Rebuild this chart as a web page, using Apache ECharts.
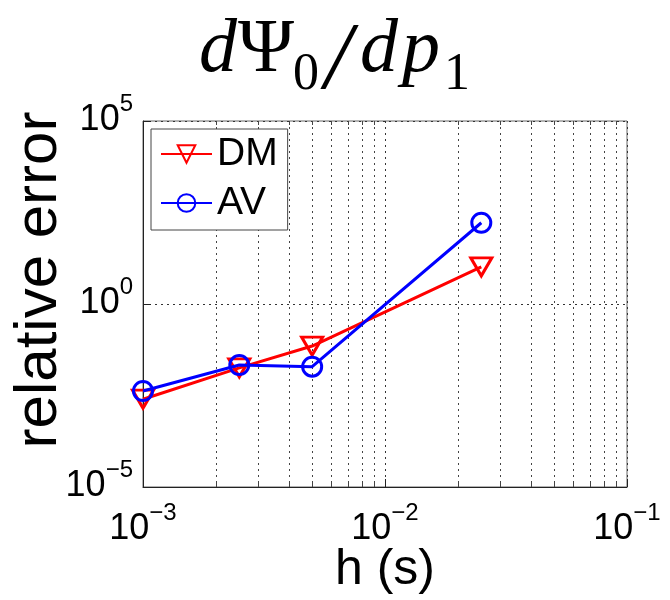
<!DOCTYPE html>
<html>
<head>
<meta charset="utf-8">
<script src="https://cdn.jsdelivr.net/npm/echarts@6/dist/echarts.min.js"></script>
<style>
  html, body { margin: 0; padding: 0; background: #fff; }
  #chart { width: 670px; height: 600px; }
</style>
</head>
<body>
<div id="chart"></div>
<script>
// Step sizes h (s) and relative errors of the sensitivity dPsi0/dp1
const stepSizes = [0.001, 0.0025, 0.005, 0.025];
const errorDM = [2.5e-3, 0.018, 0.071, 10.3];
const errorAV = [4.2e-3, 0.0215, 0.0194, 166];

// Minor (2..9 per decade) grid positions on the h axis
const minorGridH = [0.002, 0.003, 0.004, 0.005, 0.006, 0.007, 0.008, 0.009,
                    0.02, 0.03, 0.04, 0.05, 0.06, 0.07, 0.08, 0.09];

const seriesNames = ['DM', 'AV'];

const SANS = '"Liberation Sans", Arial, sans-serif';
const SERIF = '"Liberation Serif", "Times New Roman", serif';
const dotted = [2, 4];
const Y_MIN = 1e-5, Y_MAX = 1e5;

// "10" with a raised exponent
function powerLabel(v) {
  const e = Math.round(Math.log10(v));
  const s = e < 0 ? '\u2212' + Math.abs(e) : String(e);
  return '{b|10}{e|' + s + '}';
}
const powerRich = {
  b: { fontFamily: SANS, fontSize: 36, color: '#000', verticalAlign: 'top', padding: [10, 0, 0, 0] },
  e: { fontFamily: SANS, fontSize: 24, color: '#000', verticalAlign: 'top' }
};

const mainTok = (extra) => Object.assign({
  fontFamily: SERIF, fontSize: 76, fontWeight: 'normal', color: '#000',
  verticalAlign: 'top', align: 'center'
}, extra);
const subTok = (extra) => Object.assign({
  fontFamily: SERIF, fontSize: 52, fontWeight: 'normal', color: '#000',
  verticalAlign: 'top', align: 'center', padding: [36, 0, 0, 0]
}, extra);

const chart = echarts.init(document.getElementById('chart'), null, { renderer: 'canvas' });

chart.setOption({
  backgroundColor: '#fff',
  animation: false,
  title: {
    left: 'center',
    top: 8,
    text: '{d1|d}{psi|\u03A8}{s0|0}{sl|/}{d2|d}{p|p}{s1|1}',
    textStyle: {
      fontWeight: 'normal',
      rich: {
        d1: mainTok({ fontStyle: 'italic', width: 40 }),
        psi: mainTok({ width: 56 }),
        s0: subTok({ width: 24 }),
        sl: mainTok({ fontStyle: 'italic', fontSize: 96, width: 40, padding: [2, 0, 0, 0] }),
        d2: mainTok({ fontStyle: 'italic', width: 42 }),
        p: mainTok({ fontStyle: 'italic', width: 42 }),
        s1: subTok({ width: 30 })
      }
    }
  },
  legend: {
    data: seriesNames,
    orient: 'vertical',
    left: 151,
    top: 129,
    padding: [5, 10, 7, 9],
    itemGap: 9,
    itemWidth: 51,
    itemHeight: 22,
    backgroundColor: '#fff',
    borderColor: '#444',
    borderWidth: 1,
    borderRadius: 0,
    textStyle: { fontFamily: SANS, fontSize: 39, color: '#000', lineHeight: 40 }
  },
  grid: {
    left: 143, top: 121, width: 484, height: 366,
    containLabel: false,
    outerBoundsMode: 'none',
    show: true, borderColor: '#666', borderWidth: 1, backgroundColor: '#fff'
  },
  xAxis: {
    type: 'log',
    logBase: 10,
    min: 0.001,
    max: 0.1,
    interval: 1,
    name: 'h (s)',
    nameLocation: 'middle',
    nameGap: 58,
    nameMoveOverlap: false,
    nameTextStyle: { fontFamily: SANS, fontSize: 50, color: '#000' },
    axisLine: { show: true, lineStyle: { color: '#222', width: 1 } },
    axisTick: { show: true, inside: true, length: 8, lineStyle: { color: '#222' } },
    axisLabel: { margin: 14, formatter: powerLabel, rich: powerRich },
    splitLine: { show: true, lineStyle: { color: '#333', type: dotted, width: 1 } },
    minorTick: { show: false },
    minorSplitLine: { show: false }
  },
  yAxis: {
    type: 'log',
    logBase: 10,
    min: Y_MIN,
    max: Y_MAX,
    interval: 5,
    name: 'relative error',
    nameLocation: 'middle',
    nameGap: 74,
    nameMoveOverlap: false,
    nameTextStyle: { fontFamily: SANS, fontSize: 60, color: '#000', padding: [0, 0, 0, 48] },
    axisLine: { show: true, lineStyle: { color: '#222', width: 1 } },
    axisTick: { show: true, inside: true, length: 8, lineStyle: { color: '#222' } },
    axisLabel: { margin: 10, formatter: powerLabel, rich: powerRich, padding: [0, 0, 12, 0] },
    splitLine: { show: true, lineStyle: { color: '#333', type: dotted, width: 1 } }
  },
  series: [
    {
      // dotted minor grid lines with short inner ticks at top and bottom
      name: 'minor grid',
      type: 'custom',
      silent: true,
      z: 1,
      data: minorGridH.map(v => [v, Y_MIN, Y_MAX]),
      encode: { x: 0, y: [1, 2] },
      renderItem: function (params, api) {
        const bottom = api.coord([api.value(0), api.value(1)]);
        const top = api.coord([api.value(0), api.value(2)]);
        const x = Math.round(bottom[0]) + 0.5;
        return {
          type: 'group',
          children: [
            {
              type: 'line',
              shape: { x1: x, y1: top[1], x2: x, y2: bottom[1] },
              style: { stroke: '#444', lineWidth: 1, lineDash: dotted }
            },
            {
              type: 'line',
              shape: { x1: x, y1: top[1], x2: x, y2: top[1] + 4 },
              style: { stroke: '#444', lineWidth: 1 }
            },
            {
              type: 'line',
              shape: { x1: x, y1: bottom[1], x2: x, y2: bottom[1] - 4 },
              style: { stroke: '#444', lineWidth: 1 }
            }
          ]
        };
      }
    },
    {
      name: 'DM',
      type: 'line',
      z: 3,
      data: stepSizes.map((h, i) => [h, errorDM[i]]),
      lineStyle: { color: '#ff0000', width: 3 },
      symbol: 'triangle',
      symbolRotate: 180,
      symbolSize: [21, 18],
      itemStyle: { color: 'rgba(255,255,255,0)', borderColor: '#ff0000', borderWidth: 3 }
    },
    {
      name: 'AV',
      type: 'line',
      z: 4,
      data: stepSizes.map((h, i) => [h, errorAV[i]]),
      lineStyle: { color: '#0000ff', width: 3 },
      symbol: 'circle',
      symbolSize: 19,
      itemStyle: { color: 'rgba(255,255,255,0)', borderColor: '#0000ff', borderWidth: 3 }
    }
  ]
});
</script>
</body>
</html>
